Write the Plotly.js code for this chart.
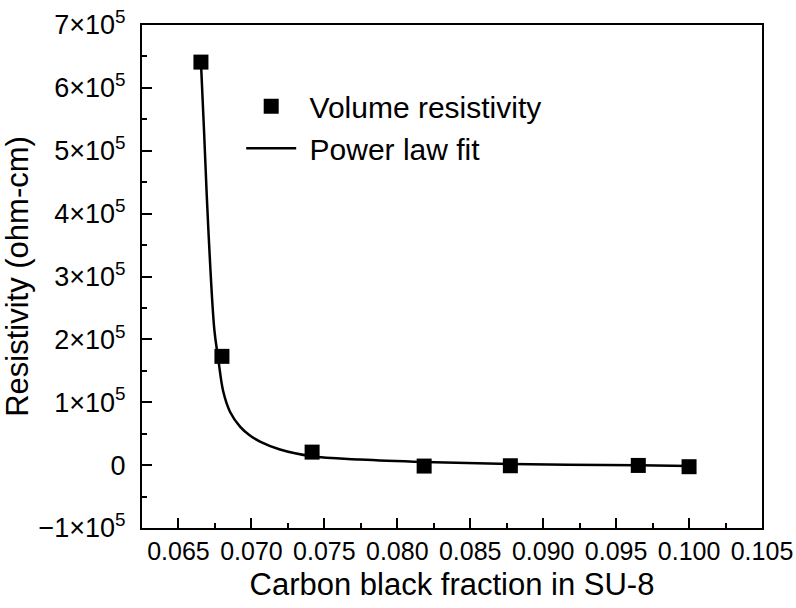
<!DOCTYPE html>
<html>
<head>
<meta charset="utf-8">
<script src="https://cdn.plot.ly/plotly-3.0.1.min.js"></script>
<style>html,body{margin:0;padding:0;background:#fff;}#chart{width:796px;height:608px;}</style>
</head>
<body>
<div id="chart"></div>
<script>
// Measured data (volume resistivity, ohm-cm)
const fraction = [0.06654, 0.06798, 0.07416, 0.08184, 0.08775, 0.09652, 0.1000];
const resistivity = [641000, 173000, 20700, -1500, -1000, -500, -2500];

// Power law fit curve
const fitX = [0.06654, 0.06675, 0.06705, 0.06746, 0.06771, 0.06807, 0.06853, 0.06922, 0.06990, 0.07059, 0.07196, 0.07415, 0.07744, 0.08183, 0.08779, 0.09656, 0.1000];
const fitY = [641000, 533000, 374000, 215000, 172000, 117000, 85000, 61300, 47000, 37500, 24800, 14100, 8900, 4900, 1700, -300, -1400];

// Axis tick labels
const yTickVals = [-100000, 0, 100000, 200000, 300000, 400000, 500000, 600000, 700000];
const yTickText = ['\u22121\u00d710<sup>5</sup>', '0', '1\u00d710<sup>5</sup>', '2\u00d710<sup>5</sup>', '3\u00d710<sup>5</sup>', '4\u00d710<sup>5</sup>', '5\u00d710<sup>5</sup>', '6\u00d710<sup>5</sup>', '7\u00d710<sup>5</sup>'];

const FONT = 'Liberation Sans, Arial, sans-serif';

const traces = [
  {
    x: fraction, y: resistivity, type: 'scatter', mode: 'markers',
    name: '\u00a0Volume resistivity',
    marker: {symbol: 'square', size: 15, color: '#000'}
  },
  {
    x: fitX, y: fitY, type: 'scatter', mode: 'lines',
    name: '\u00a0Power law fit',
    line: {color: '#000', width: 2.5, shape: 'spline', smoothing: 1}
  }
];

const axisCommon = {
  showgrid: false, zeroline: false, showline: true, linecolor: '#000', linewidth: 2,
  mirror: true, ticks: 'inside', ticklen: 10, tickwidth: 2, tickcolor: '#000'
};

const layout = {
  width: 796, height: 608,
  margin: {l: 142, r: 34, t: 25, b: 80},
  paper_bgcolor: '#fff', plot_bgcolor: '#fff',
  showlegend: true,
  legend: {
    x: 0.16, y: 0.89, xanchor: 'left', yanchor: 'top',
    font: {family: FONT, size: 30, color: '#000'},
    bgcolor: 'rgba(0,0,0,0)', borderwidth: 0, itemwidth: 50
  },
  xaxis: Object.assign({}, axisCommon, {
    range: [0.0625, 0.105], tick0: 0.065, dtick: 0.005, tickformat: '.3f',
    automargin: false,
    tickfont: {family: FONT, size: 25, color: '#000'},
    minor: {ticks: 'inside', ticklen: 5, tickwidth: 2, tickcolor: '#000', dtick: 0.0025, tick0: 0.0625},
    title: {text: 'Carbon black fraction in SU-8', font: {family: FONT, size: 31, color: '#000'}, standoff: 9}
  }),
  yaxis: Object.assign({}, axisCommon, {
    range: [-100000, 700000], tickmode: 'array', tickvals: yTickVals, ticktext: yTickText,
    automargin: false, ticklabelstandoff: 9,
    tickfont: {family: FONT, size: 27, color: '#000'},
    minor: {ticks: 'inside', ticklen: 5, tickwidth: 2, tickcolor: '#000', dtick: 50000, tick0: 0},
    title: {text: 'Resistivity (ohm-cm)', font: {family: FONT, size: 31, color: '#000'}, standoff: 2}
  })
};

Plotly.newPlot('chart', traces, layout, {displayModeBar: false, staticPlot: true});
</script>
</body>
</html>
